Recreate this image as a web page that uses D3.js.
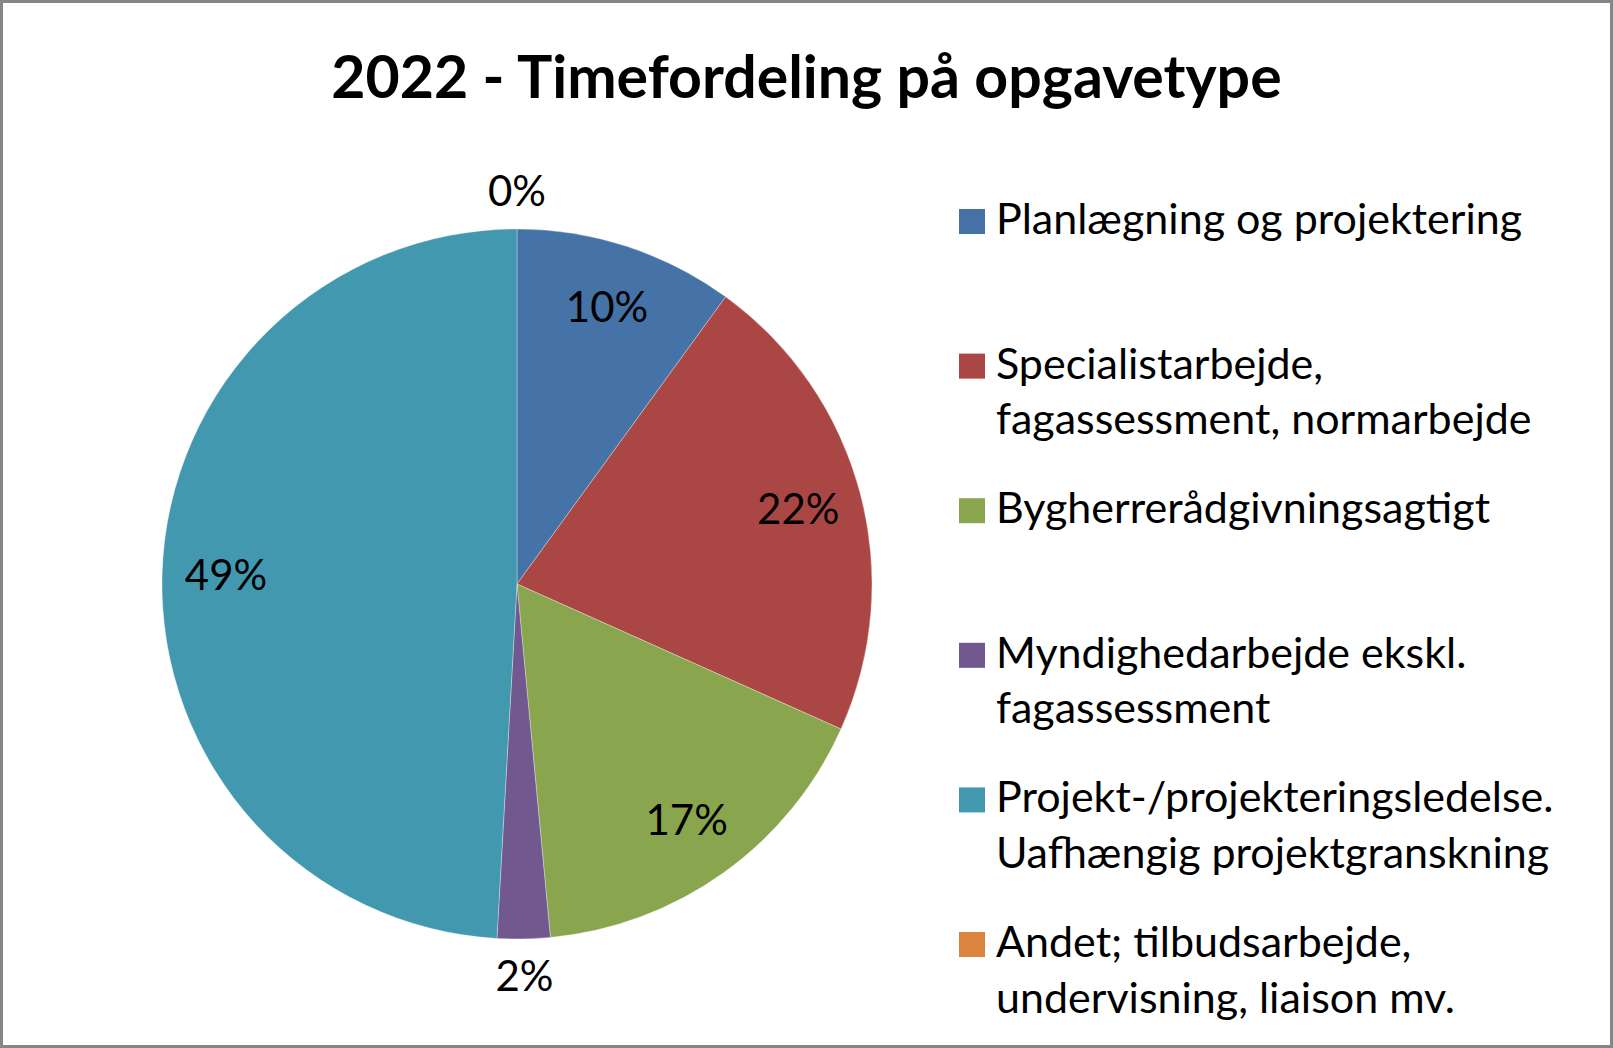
<!DOCTYPE html>
<html>
<head>
<meta charset="utf-8">
<script src="https://cdn.jsdelivr.net/npm/d3@7/dist/d3.min.js"></script>
<style>
  html, body { margin: 0; padding: 0; background: #fff; }
  svg { display: block; }
</style>
</head>
<body>
<div id="chart"></div>
<script>
const title = "2022 - Timefordeling på opgavetype";

const categories = [
  ["Planlægning og projektering"],
  ["Specialistarbejde,", "fagassessment, normarbejde"],
  ["Bygherrerådgivningsagtigt"],
  ["Myndighedarbejde ekskl.", "fagassessment"],
  ["Projekt-/projekteringsledelse.", "Uafhængig projektgranskning"],
  ["Andet; tilbudsarbejde,", "undervisning, liaison mv."]
];

// share of hours, percent
const values = [10.0, 21.7, 16.8, 2.4, 49.1, 0];

const colors = ["#4572A7", "#AA4643", "#89A54E", "#71588F", "#4198AF", "#DB843D"];

// labels that sit outside the pie (small slices)
const outsideLabels = [false, false, false, true, false, true];

const width = 1613;
const height = 1048;
const font = "Lato, 'Open Sans', sans-serif";

const svg = d3.select('#chart')
  .append('svg')
  .attr('width', width)
  .attr('height', height);

// chart area border
svg.append('rect')
  .attr('x', 1.5)
  .attr('y', 1.5)
  .attr('width', width - 3)
  .attr('height', height - 3)
  .attr('fill', '#fff')
  .attr('stroke', '#868686')
  .attr('stroke-width', 3);

// Title
svg.append('text')
  .attr('x', width / 2)
  .attr('y', 98)
  .attr('text-anchor', 'middle')
  .style('font-family', font)
  .style('font-size', '59px')
  .style('font-weight', 'bold')
  .style('fill', '#000')
  .text(title);

const cx = 517, cy = 584, radius = 355;

const pie = d3.pie().sort(null).value(d => d);
const arcs = pie(values);
const arc = d3.arc().innerRadius(0).outerRadius(radius);
const inLabelArc = d3.arc().innerRadius(radius * 0.82).outerRadius(radius * 0.82);
const outLabelArc = d3.arc().innerRadius(radius * 1.105).outerRadius(radius * 1.105);

const g = svg.append('g').attr('transform', `translate(${cx},${cy})`);

g.selectAll('path')
  .data(arcs)
  .enter()
  .append('path')
  .attr('d', arc)
  .attr('fill', (d, i) => colors[i])
  .attr('stroke', '#ffffff')
  .attr('stroke-opacity', d => d.value > 0 ? 0.4 : 0)
  .attr('stroke-width', 0.8);

const total = d3.sum(values);

g.selectAll('.pct-label')
  .data(arcs)
  .enter()
  .append('text')
  .attr('class', 'pct-label')
  .attr('transform', (d, i) => `translate(${(outsideLabels[i] ? outLabelArc : inLabelArc).centroid(d)})`)
  .attr('text-anchor', 'middle')
  .attr('dy', '0.35em')
  .style('font-family', font)
  .style('font-size', '42px')
  .style('fill', '#000')
  .text(d => Math.round(d.value / total * 100) + '%');

// Legend
const legendX = 959;
const legendY = 234;
const itemGap = 144.6;
const lineGap = 55.6;

const legend = svg.append('g');

const items = legend.selectAll('.item')
  .data(categories)
  .enter()
  .append('g')
  .attr('class', 'item')
  .attr('transform', (d, i) => `translate(${legendX},${legendY + i * itemGap})`);

items.append('rect')
  .attr('x', 0)
  .attr('y', -25)
  .attr('width', 26)
  .attr('height', 25)
  .attr('fill', (d, i) => colors[i]);

items.append('text')
  .style('font-family', font)
  .style('font-size', '43px')
  .style('fill', '#000')
  .selectAll('tspan')
  .data(d => d)
  .enter()
  .append('tspan')
  .attr('x', 37)
  .attr('y', (d, j) => j * lineGap)
  .text(d => d);
</script>
</body>
</html>
